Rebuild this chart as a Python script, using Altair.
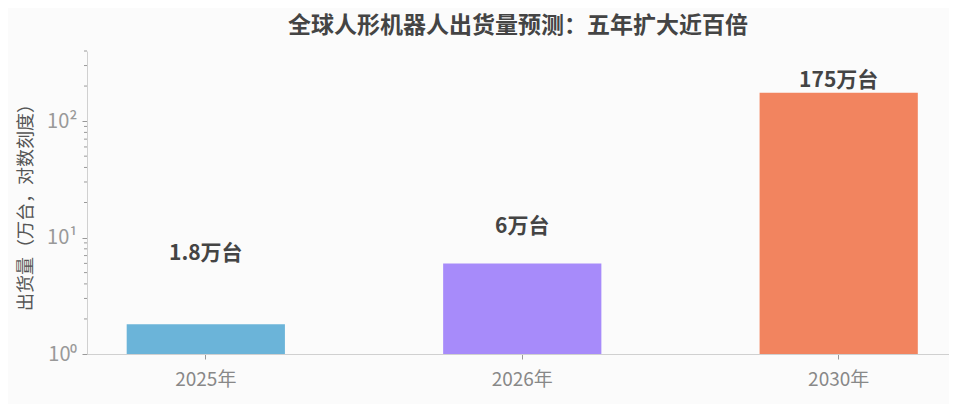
import altair as alt
import pandas as pd

years = ["2025年", "2026年", "2030年"]
values = [1.8, 6, 175]
labels = ["1.8万台", "6万台", "175万台"]
label_y = [7.2, 12.3, 221]
colors = ["#6BB4D9", "#A78BFA", "#F2845F"]
major_ticks = [1, 10, 100]
minor_ticks = [2, 3, 4, 5, 6, 7, 8, 9, 20, 30, 40, 50, 60, 70, 80, 90, 200, 300, 400]

df = pd.DataFrame({"year": years, "value": values, "label": labels, "ly": label_y})
minor_df = pd.DataFrame({"v": minor_ticks})

FONT = "Noto Sans CJK SC"
yscale = alt.Scale(type="log", domain=[1, 400], nice=False)
xscale = alt.Scale(paddingInner=0.5, paddingOuter=0.112, align=0.56)

bars = alt.Chart(df).mark_bar().encode(
    x=alt.X("year:N", scale=xscale, sort=years,
            axis=alt.Axis(title=None, labelAngle=0, labelFontSize=19, labelColor="#888888",
                          labelFont=FONT, domainColor="#d0d0d0", tickColor="#999999",
                          tickSize=5, labelPadding=11)),
    y=alt.Y("value:Q", scale=yscale, stack=None,
            axis=alt.Axis(title="出货量（万台，对数刻度）", titleFontSize=18, titleColor="#555555",
                          titleFont=FONT, titleFontWeight="normal", titlePadding=11,
                          values=major_ticks,
                          labelExpr="datum.value == 1 ? '10⁰' : datum.value == 10 ? '10¹' : datum.value == 100 ? '10²' : ''",
                          labelFontSize=20, labelColor="#999999", labelFont=FONT,
                          domainColor="#d0d0d0", tickColor="#999999", tickSize=5,
                          grid=False, labelPadding=5)),
    y2=alt.datum(1),
    color=alt.Color("year:N", scale=alt.Scale(domain=years, range=colors), legend=None),
)

text = alt.Chart(df).mark_text(fontSize=21, fontWeight="bold", color="#444444",
                               font=FONT, baseline="middle").encode(
    x=alt.X("year:N", scale=xscale, sort=years),
    y=alt.Y("ly:Q", scale=yscale),
    text="label:N",
)

minor = alt.Chart(minor_df).mark_rule(color="#999999", strokeWidth=1).encode(
    y=alt.Y("v:Q", scale=yscale),
    x=alt.value(-3),
    x2=alt.value(0),
)

chart = alt.layer(bars, text, minor).properties(
    width=862,
    height=303,
    background="#fbfbfb",
    padding={"left": 79, "top": 43, "right": 0, "bottom": 50},
    autosize=alt.AutoSizeParams(type="none"),
    title=alt.TitleParams("全球人形机器人出货量预测：五年扩大近百倍", fontSize=23,
                          fontWeight="bold", color="#444444", font=FONT, offset=13,
                          anchor="middle"),
).configure_view(stroke=None)

chart.save("out.html", embed_options={"renderer": "svg", "actions": False})
